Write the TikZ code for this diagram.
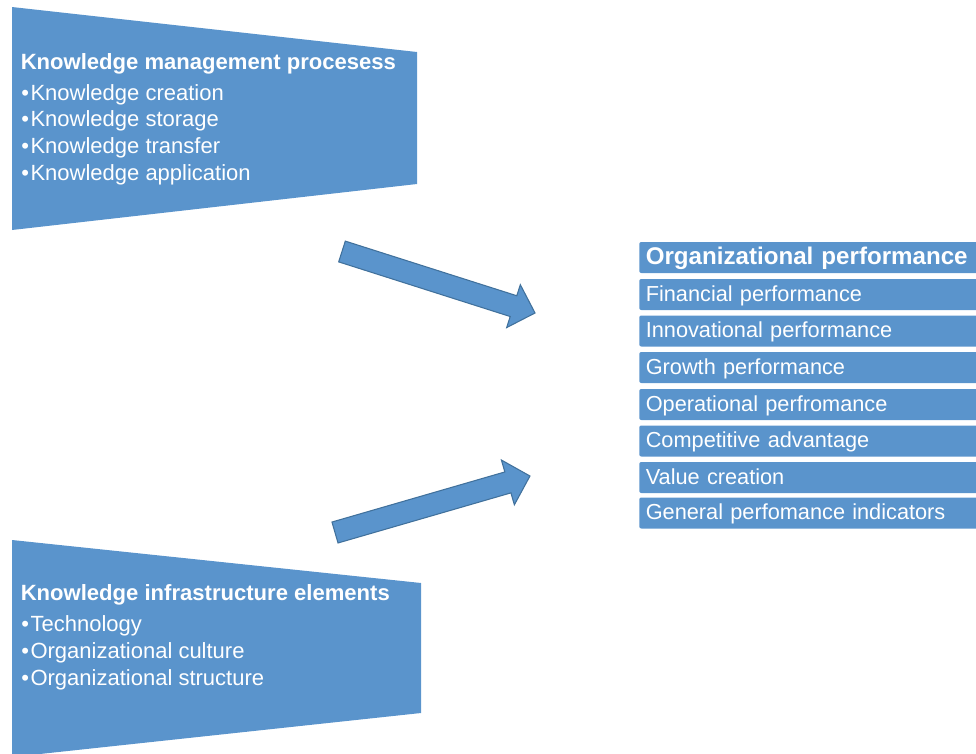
\documentclass[tikz,border=0pt]{standalone}
\usepackage{fontspec}
\setmainfont{Liberation Sans}
\usetikzlibrary{calc}
\definecolor{kmblue}{RGB}{90,148,204}
\definecolor{kmedge}{RGB}{65,113,156}
\tikzset{
  trap/.style={fill=kmblue, draw=none},
  ttl/.style={anchor=base west, text=white, inner sep=0pt, font=\fontsize{16.55}{19}\selectfont\bfseries},
  itm/.style={anchor=base west, text=white, inner sep=0pt, font=\fontsize{16.5}{19}\selectfont},
  perf/.style={anchor=west, fill=kmblue, rounded corners=1.5pt, minimum height=23.25pt,
    text width=260pt, align=left, inner xsep=4.9pt, inner ysep=0pt, text=white,
    font=\fontsize{16.3}{19}\selectfont, text height=12.4pt, text depth=2.6pt},
  perftitle/.style={perf, font=\fontsize{18.1}{21}\selectfont\bfseries, text height=12.8pt, text depth=2.6pt},
  blk/.style={fill=kmblue, draw=kmedge, line width=0.8pt, line join=miter},
}
\begin{document}
\begin{tikzpicture}[x=0.75pt,y=-0.75pt]
\useasboundingbox (0,0) rectangle (976,754);
\begin{scope}
\clip (0,0) rectangle (976,754);

% top trapezoid
\fill[trap] (12,7) -- (417,52) -- (417,184) -- (12,230) -- cycle;
\node[ttl] (kmt) at (20.5,69) {Knowledge management procesess};
\node[itm] (km1) at (21,100.7) {•\hspace{1.2pt}Knowledge creation};
\node[itm] (km2) at (21,126.9) {•\hspace{1.2pt}Knowledge storage};
\node[itm] (km3) at (21,153.3) {•\hspace{1.2pt}Knowledge transfer};
\node[itm] (km4) at (21,180) {•\hspace{1.2pt}Knowledge application};

% bottom trapezoid
\fill[trap] (12,540) -- (421,583) -- (421,713) -- (12,757) -- cycle;
\node[ttl] (kit) at (20.5,600) {Knowledge infrastructure elements};
\node[itm] (ki1) at (21,631) {•\hspace{1.2pt}Technology};
\node[itm] (ki2) at (21,658) {•\hspace{1.2pt}Organizational culture};
\node[itm] (ki3) at (21,685) {•\hspace{1.2pt}Organizational structure};

% performance list
\node[perftitle] (op) at (639,257.5) {Organizational performance};
\node[perf] (op1) at (639,294.5) {Financial performance};
\node[perf] (op2) at (639,331) {Innovational performance};
\node[perf] (op3) at (639,367.5) {Growth performance};
\node[perf] (op4) at (639,404.5) {Operational perfromance};
\node[perf] (op5) at (639,441) {Competitive advantage};
\node[perf] (op6) at (639,477.5) {Value creation};
\node[perf] (op7) at (639,513) {General perfomance indicators};

% block arrows
\coordinate (a1t) at (342,251.5);
\coordinate (a1h) at (535,313);
\coordinate (a2t) at (335,532.5);
\coordinate (a2h) at (530,476);
\begin{scope}[shift={(a1t)}, rotate=-17.67]
  \draw[blk] (0,-10.9) -- (180,-10.9) -- (180,-22.5) -- (202.6,0) -- (180,22.5) -- (180,10.9) -- (0,10.9) -- cycle;
\end{scope}
\begin{scope}[shift={(a2t)}, rotate=16.16]
  \draw[blk] (0,-10.9) -- (180,-10.9) -- (180,-23.3) -- (203,0) -- (180,23.3) -- (180,10.9) -- (0,10.9) -- cycle;
\end{scope}
\end{scope}
\end{tikzpicture}
\end{document}
